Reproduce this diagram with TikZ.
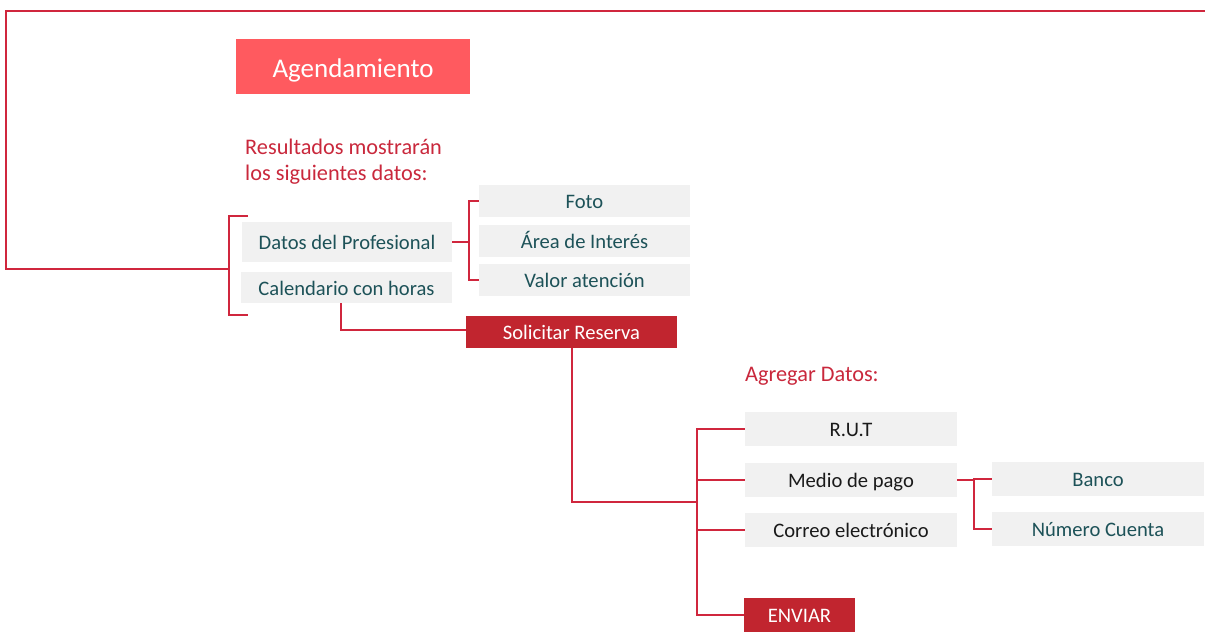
\documentclass[tikz,border=0pt]{standalone}
\usepackage{fontspec}
\setmainfont{Carlito}
\definecolor{lred}{HTML}{D0263D}
\definecolor{tred}{HTML}{C9283C}
\definecolor{salmon}{HTML}{FF5A5F}
\definecolor{dred}{HTML}{C1252F}
\definecolor{lgray}{HTML}{F1F1F1}
\definecolor{teal}{HTML}{1D5258}
\definecolor{ink}{HTML}{1A1A1A}
\newcommand{\fsmain}{\fontsize{20.6}{24}\selectfont}
\newcommand{\fslbl}{\fontsize{22.3}{26}\selectfont}
\newcommand{\fstitle}{\fontsize{27}{30}\selectfont}
\tikzset{
  ln/.style={draw=lred, line width=2pt},
  boxbase/.style={fill=lgray, inner sep=0pt, font=\fsmain, text height=15.5pt, text depth=0pt},
  gbox/.style={boxbase, text=teal},
  kbox/.style={boxbase, text=ink},
  rbox/.style={boxbase, fill=dred, text=white},
  lbl/.style={text=tred, inner sep=0pt, font=\fslbl, anchor=base west, align=left},
}
\begin{document}
\begin{tikzpicture}[x=1pt,y=-1pt]
\useasboundingbox (0,0) rectangle (1205,638);
% title
\node[fill=salmon, text=white, inner sep=0pt, font=\fstitle, text height=21pt, text depth=0pt, minimum width=234pt, minimum height=55pt] (title) at (353,66.5) {Agendamiento};
\node[lbl] (res) at (245,180) {Resultados mostrarán\\[0pt]los siguientes datos:};
% first level
\node[gbox, minimum width=210pt, minimum height=40pt] (dp) at (347,242) {Datos del Profesional};
\node[gbox, minimum width=211pt, minimum height=31pt] (cal) at (346.5,287.5) {Calendario con horas};
% second level
\node[gbox, minimum width=211pt, minimum height=32pt] (foto) at (584.5,201) {Foto};
\node[gbox, minimum width=211pt, minimum height=32pt] (area) at (584.5,241) {Área de Interés};
\node[gbox, minimum width=211pt, minimum height=32pt] (valor) at (584.5,280) {Valor atención};
% solicitar
\node[rbox, minimum width=211pt, minimum height=32pt] (sol) at (571.5,332) {Solicitar Reserva};
\node[lbl] (agr) at (745,381) {Agregar Datos:};
\node[kbox, minimum width=212pt, minimum height=34pt] (rut) at (851,429) {R.U.T};
\node[kbox, minimum width=212pt, minimum height=34pt] (mp) at (851,480) {Medio de pago};
\node[kbox, minimum width=212pt, minimum height=34pt] (ce) at (851,530) {Correo electrónico};
\node[rbox, minimum width=111pt, minimum height=34pt] (env) at (799.5,615) {ENVIAR};
\node[gbox, minimum width=212pt, minimum height=34pt] (banco) at (1098,479) {Banco};
\node[gbox, minimum width=212pt, minimum height=34pt] (nc) at (1098,529) {Número Cuenta};
% connectors
\coordinate (tr) at (1205,11);
\coordinate (fl) at (6,11);
\coordinate (bt) at (248,216);
\coordinate (bb) at (248,315);
\coordinate (bm) at (229,269);
\draw[ln] (tr) -- (fl) |- (bm);
\draw[ln] (bt) -- ++(-19,0) |- (bb);
\draw[ln] (dp.east) -- ++(18,0);
\draw[ln] (foto.west) -- ++(-10,0) |- (valor.west);
\draw[ln] ([xshift=-6pt]cal.south) |- ([yshift=2pt]sol.west);
\coordinate (j2) at (697,502);
\draw[ln] (sol.south) |- (j2);
\draw[ln] (rut.west) -- ++(-48,0) |- (env.west);
\draw[ln] (mp.west) -- ++(-48,0);
\draw[ln] (ce.west) -- ++(-48,0);
\draw[ln] (mp.east) -- ++(17,0);
\draw[ln] (banco.west) -- ++(-18,0) |- (nc.west);
\end{tikzpicture}
\end{document}
